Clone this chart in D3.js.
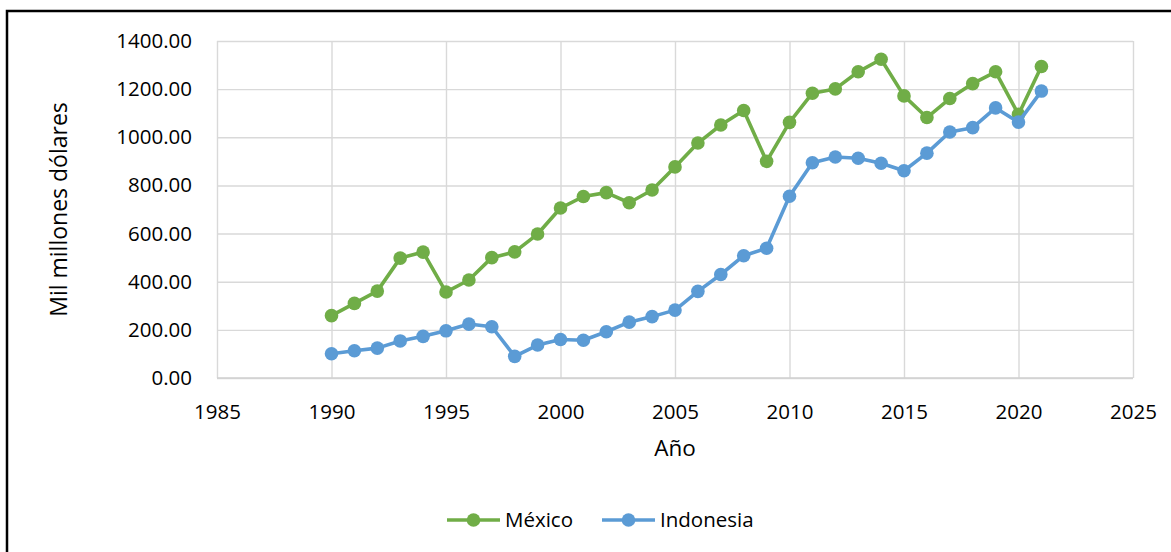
<!DOCTYPE html>
<html>
<head>
<meta charset="utf-8">
<script src="https://cdn.jsdelivr.net/npm/d3@7"></script>
<style>
  html, body { margin: 0; padding: 0; background: #fff; }
  svg { display: block; font-family: "Open Sans", sans-serif; }
</style>
</head>
<body>
<svg id="chart" width="1171" height="552"></svg>
<script>
// Years and series values (mil millones de dólares)
const years = [1990,1991,1992,1993,1994,1995,1996,1997,1998,1999,2000,2001,2002,2003,2004,2005,
               2006,2007,2008,2009,2010,2011,2012,2013,2014,2015,2016,2017,2018,2019,2020,2021];
const mexico = [259,310,361,498,523,357,407,500,524,598,706,754,770,728,781,877,
                976,1051,1111,900,1062,1183,1201,1272,1324,1172,1082,1161,1223,1272,1095,1294];
const indonesia = [101,113,124,154,173,196,224,213,90,137,160,157,192,232,255,282,
                   360,430,508,539,755,894,918,913,892,861,934,1022,1040,1122,1063,1192];
const seriesNames = ["México", "Indonesia"];
const seriesColors = ["#70ad47", "#5b9bd5"];
const xTicks = [1985,1990,1995,2000,2005,2010,2015,2020,2025];
const yTicks = [0,200,400,600,800,1000,1200,1400];
const xTitle = "Año";
const yTitle = "Mil millones dólares";

const svg = d3.select("#chart");
const plot = { left: 217, right: 1133, top: 41, bottom: 378 };

const x = d3.scaleLinear().domain([1985, 2025]).range([plot.left, plot.right]);
const y = d3.scaleLinear().domain([0, 1400]).range([plot.bottom, plot.top]);

// Outer frame
svg.append("rect")
  .attr("x", 7).attr("y", 11)
  .attr("width", 1300).attr("height", 700)
  .attr("fill", "none").attr("stroke", "#000").attr("stroke-width", 2.5);

// Y axis with horizontal gridlines
const yAxis = svg.append("g")
  .attr("transform", `translate(${plot.left},0)`)
  .call(d3.axisLeft(y).tickValues(yTicks)
    .tickSize(-(plot.right - plot.left)).tickPadding(25)
    .tickFormat(d3.format(".2f")));
yAxis.select(".domain").remove();
yAxis.selectAll(".tick line").attr("stroke", "#d9d9d9").attr("stroke-width", 1.4);
yAxis.selectAll(".tick text").attr("font-size", 20.5).attr("fill", "#000")
  .attr("font-family", "Open Sans, sans-serif");

// X axis with vertical gridlines
const xAxis = svg.append("g")
  .attr("transform", `translate(0,${plot.bottom})`)
  .call(d3.axisBottom(x).tickValues(xTicks)
    .tickSize(-(plot.bottom - plot.top)).tickPadding(26)
    .tickFormat(d3.format("d")));
xAxis.select(".domain").remove();
xAxis.selectAll(".tick line").attr("stroke", "#d9d9d9").attr("stroke-width", 1.4);
xAxis.selectAll(".tick text").attr("font-size", 20.5).attr("fill", "#000")
  .attr("font-family", "Open Sans, sans-serif");

// Baseline
svg.append("line")
  .attr("x1", plot.left).attr("x2", plot.right)
  .attr("y1", y(0)).attr("y2", y(0))
  .attr("stroke", "#d0d0d0").attr("stroke-width", 1.6);

// Axis titles
svg.append("text")
  .attr("x", (plot.left + plot.right) / 2).attr("y", 456)
  .attr("text-anchor", "middle").attr("font-size", 22.5).attr("fill", "#000")
  .text(xTitle);
svg.append("text")
  .attr("transform", `translate(67,${(plot.top + plot.bottom) / 2}) rotate(-90)`)
  .attr("text-anchor", "middle").attr("font-size", 23).attr("fill", "#000")
  .text(yTitle);

// Series lines and markers
const seriesValues = [mexico, indonesia];
const line = d3.line().x(d => x(d[0])).y(d => y(d[1]));

seriesValues.forEach((vals, i) => {
  const pts = years.map((yr, j) => [yr, vals[j]]);
  const g = svg.append("g");
  g.append("path")
    .datum(pts)
    .attr("d", line)
    .attr("fill", "none")
    .attr("stroke", seriesColors[i])
    .attr("stroke-width", 3.6)
    .attr("stroke-linejoin", "round");
  g.selectAll("circle").data(pts).join("circle")
    .attr("cx", d => x(d[0])).attr("cy", d => y(d[1]))
    .attr("r", 6.8)
    .attr("fill", seriesColors[i]);
});

// Legend
const legendY = 520;
const legendX = [447, 602];
seriesNames.forEach((name, i) => {
  const g = svg.append("g").attr("transform", `translate(${legendX[i]},${legendY})`);
  g.append("line").attr("x1", 0).attr("x2", 53).attr("y1", 0).attr("y2", 0)
    .attr("stroke", seriesColors[i]).attr("stroke-width", 3.6);
  g.append("circle").attr("cx", 26.5).attr("cy", 0).attr("r", 6.8)
    .attr("fill", seriesColors[i]);
  g.append("text").attr("x", 58).attr("y", 0).attr("dy", "0.35em")
    .attr("font-size", 20.5).attr("fill", "#000").text(name);
});
</script>
</body>
</html>
